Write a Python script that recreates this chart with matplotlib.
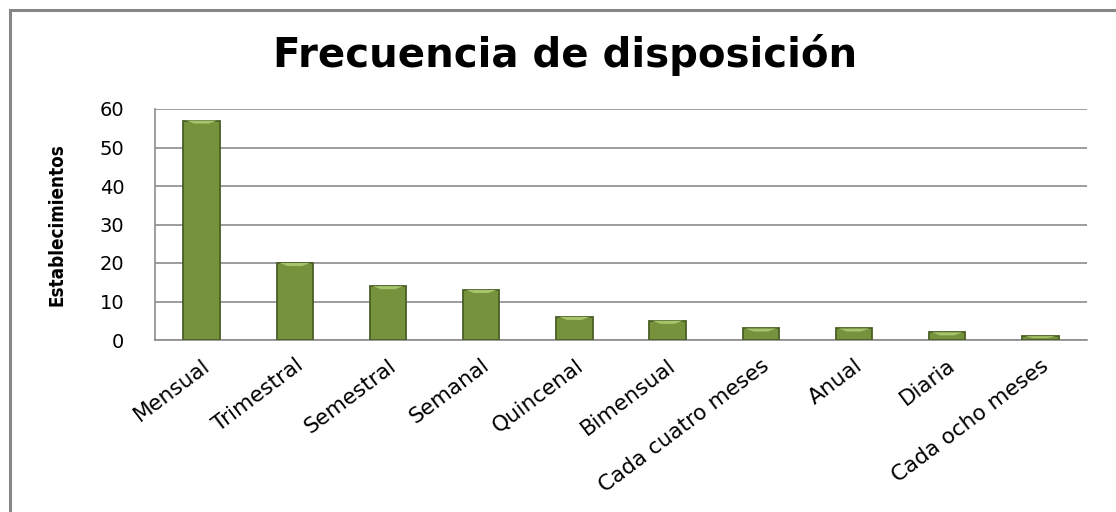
import numpy as np
import matplotlib
matplotlib.use('Agg')
import matplotlib.pyplot as plt
from matplotlib.patches import Rectangle, Polygon

categorias = ['Mensual', 'Trimestral', 'Semestral', 'Semanal', 'Quincenal',
              'Bimensual', 'Cada cuatro meses', 'Anual', 'Diaria', 'Cada ocho meses']
valores = [57, 20, 14, 13, 6, 5, 3, 3, 2, 1]
yticks = [0, 10, 20, 30, 40, 50, 60]

plt.rcParams['font.family'] = ['DejaVu Sans']

W, H = 1116, 512
fig = plt.figure(figsize=(W / 100, H / 100), dpi=100)
fig.patch.set_facecolor('white')

# chart frame (runs off right and bottom edges)
fig.patches.append(Rectangle((9.5 / W, -0.1), 1.2, 1.1 - 9.5 / H, transform=fig.transFigure,
                             fill=False, edgecolor='#868686', lw=2.2))

ax = fig.add_axes([155 / W, 1 - 340 / H, (1087 - 155) / W, (340 - 109) / H])

x = np.arange(len(categorias))
bw = 0.39
bars = ax.bar(x, valores, width=bw, color='#76923C', edgecolor='#4A5E24', lw=1.3, zorder=3)

# light bevel on top of each bar
for b in bars:
    x0, w, h = b.get_x(), b.get_width(), b.get_height()
    d = min(0.8, h * 0.5)
    ax.add_patch(Polygon([(x0 + 0.03, h), (x0 + w - 0.03, h),
                          (x0 + w - 0.12, h - d), (x0 + 0.12, h - d)],
                         closed=True, facecolor='#A6C46A', edgecolor='none', zorder=4))

ax.set_xlim(-0.5, len(categorias) - 0.5)
ax.set_ylim(0, 60)
ax.set_yticks(yticks)
ax.yaxis.grid(True, color='#8C8C8C', lw=1.2, zorder=0)
ax.set_axisbelow(True)
for s in ['top', 'right']:
    ax.spines[s].set_visible(False)
ax.spines['left'].set_color('#8C8C8C')
ax.spines['bottom'].set_color('#8C8C8C')
ax.spines['left'].set_linewidth(1.2)
ax.spines['bottom'].set_linewidth(1.2)
ax.tick_params(axis='both', length=0, labelsize=14, colors='black')
ax.tick_params(axis='y', pad=22)

ax.set_xticks(x)
ax.set_xticklabels(categorias, rotation=37, ha='right', rotation_mode='anchor', fontsize=15.5)
ax.tick_params(axis='x', pad=11)

ax.set_ylabel('Establecimientos', fontsize=13.5, fontweight='bold', fontstretch='condensed')
ax.yaxis.set_label_coords((67 - 155) / (1087 - 155), 0.5)

fig.text(565 / W, 1 - 55 / H, 'Frecuencia de disposición', ha='center', va='center',
         fontsize=29, fontweight='bold')

fig.savefig('out.png', dpi=100)
